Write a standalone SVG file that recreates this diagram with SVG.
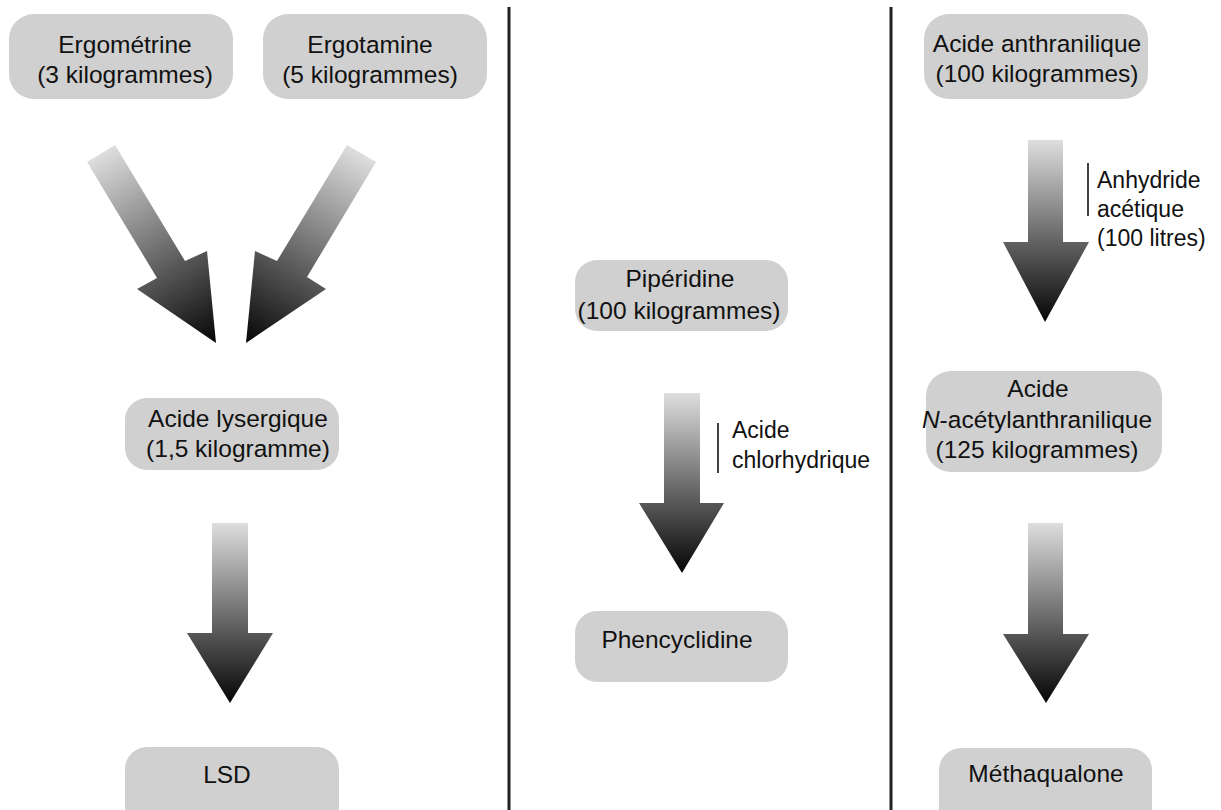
<svg xmlns="http://www.w3.org/2000/svg" width="1221" height="810" viewBox="0 0 1221 810">
<style>
.box{fill:#d0d0d0;}
.t{font-family:"Liberation Sans",Arial,sans-serif;font-size:24.5px;fill:#111;text-anchor:middle;}
.lbl{font-family:"Liberation Sans",Arial,sans-serif;font-size:23px;fill:#111;}
.bar{stroke:#111;stroke-width:1.6;}
.div{stroke:#222;stroke-width:3;}
</style>
<defs>
<linearGradient id="gv" x1="0" y1="0" x2="0" y2="1">
<stop offset="0" stop-color="#dedede"/>
<stop offset="0.6" stop-color="#5a5a5a"/>
<stop offset="1" stop-color="#050505"/>
</linearGradient>
<linearGradient id="gl" gradientUnits="userSpaceOnUse" x1="101" y1="153" x2="216" y2="343">
<stop offset="0" stop-color="#dedede"/>
<stop offset="0.6" stop-color="#5a5a5a"/>
<stop offset="1" stop-color="#050505"/>
</linearGradient>
<linearGradient id="gr" gradientUnits="userSpaceOnUse" x1="361" y1="153" x2="246" y2="343">
<stop offset="0" stop-color="#dedede"/>
<stop offset="0.6" stop-color="#5a5a5a"/>
<stop offset="1" stop-color="#050505"/>
</linearGradient>
</defs>
<rect width="1221" height="810" fill="#ffffff"/>
<g id="dividers">
<line class="div" x1="509" y1="7" x2="509" y2="810"/>
<line class="div" x1="891" y1="7" x2="891" y2="810"/>
</g>
<g id="connectors">
<path d="M87,162 L115,145 L185,261 L207,251 L216,343 L137,289 L157,278 Z" fill="url(#gl)"/>
<path d="M376,162 L347,145 L277,261 L255,251 L246,343 L326,289 L307,277 Z" fill="url(#gr)"/>
<path d="M212,523 L248,523 L248,633 L273,633 L230,703 L187,633 L212,633 Z" fill="url(#gv)"/>
<path d="M664,393 L700,393 L700,503 L724,503 L682,573 L639,503 L664,503 Z" fill="url(#gv)"/>
<path d="M1028,140 L1063,140 L1063,242 L1089,242 L1045,322 L1003,242 L1028,242 Z" fill="url(#gv)"/>
<path d="M1028,523 L1063,523 L1063,634 L1089,634 L1046,703 L1003,634 L1028,634 Z" fill="url(#gv)"/>
<g id="label-hcl">
<line class="bar" x1="718" y1="423" x2="718" y2="473"/>
<text class="lbl" x="732" y="438">Acide</text>
<text class="lbl" x="732" y="468">chlorhydrique</text>
</g>
<g id="label-anhydride">
<line class="bar" x1="1088" y1="163" x2="1088" y2="216"/>
<text class="lbl" x="1097" y="188">Anhydride</text>
<text class="lbl" x="1097" y="217">acétique</text>
<text class="lbl" x="1097" y="246">(100 litres)</text>
</g>
</g>
<g id="ergometrine">
<rect class="box" x="9" y="14" width="224" height="85" rx="25"/>
<text class="t" x="125" y="53">Ergométrine</text>
<text class="t" x="125" y="83">(3 kilogrammes)</text>
</g>
<g id="ergotamine">
<rect class="box" x="263" y="14" width="224" height="85" rx="25"/>
<text class="t" x="370" y="53">Ergotamine</text>
<text class="t" x="370" y="83">(5 kilogrammes)</text>
</g>
<g id="acide-lysergique">
<rect class="box" x="125" y="398" width="214" height="72" rx="22"/>
<text class="t" x="238" y="427">Acide lysergique</text>
<text class="t" x="238" y="457">(1,5 kilogramme)</text>
</g>
<g id="lsd">
<rect class="box" x="125" y="747" width="214" height="90" rx="22"/>
<text class="t" x="227" y="783">LSD</text>
</g>
<g id="piperidine">
<rect class="box" x="575" y="260" width="213" height="71" rx="22"/>
<text class="t" x="680" y="287">Pipéridine</text>
<text class="t" x="679" y="319">(100 kilogrammes)</text>
</g>
<g id="phencyclidine">
<rect class="box" x="575" y="611" width="213" height="71" rx="22"/>
<text class="t" x="677" y="648">Phencyclidine</text>
</g>
<g id="acide-anthranilique">
<rect class="box" x="924" y="14" width="224" height="85" rx="25"/>
<text class="t" x="1037" y="52">Acide anthranilique</text>
<text class="t" x="1037" y="82">(100 kilogrammes)</text>
</g>
<g id="acide-n-acetylanthranilique">
<rect class="box" x="926" y="371" width="236" height="101" rx="25"/>
<text class="t" x="1038" y="397">Acide</text>
<text class="t" x="1037" y="428"><tspan font-style="italic">N</tspan>-acétylanthranilique</text>
<text class="t" x="1037" y="458">(125 kilogrammes)</text>
</g>
<g id="methaqualone">
<rect class="box" x="939" y="748" width="213" height="90" rx="22"/>
<text class="t" x="1046" y="782">Méthaqualone</text>
</g>
</svg>
